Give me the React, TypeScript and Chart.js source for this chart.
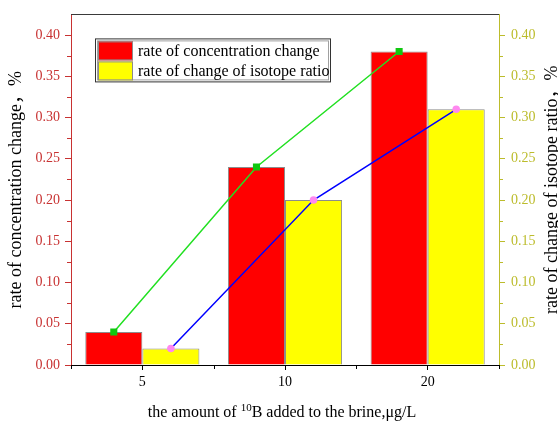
import { useEffect, useRef } from 'react';
import { Chart, registerables } from 'chart.js';

Chart.register(...registerables);

// Series data
const categories = ['5', '10', '20'];
const concentrationChange = [0.04, 0.24, 0.38];
const isotopeRatioChange = [0.02, 0.2, 0.31];
const yTickValues = [0, 0.05, 0.1, 0.15, 0.2, 0.25, 0.3, 0.35, 0.4];
const yMin = 0;
const yMax = 0.425;

const seriesLabels = ['rate of concentration change', 'rate of change of isotope ratio'];
const leftTitle = 'rate of concentration change，%';
const rightTitle = 'rate of change of isotope ratio，%';
const xTitleParts = ['the amount of ', '10', 'B added to the brine,μg/L'];

const FONT = "'Liberation Serif', 'Times New Roman', 'Noto Sans CJK SC', serif";
const LEFT_COLOR = '#c83232';
const RIGHT_COLOR = '#bcbc2c';
const RED = '#ff0000';
const YELLOW = '#ffff00';
const BAR_BORDER = '#8c8c8c';

// bar groups fill 80% of each category; each bar is half of the group
const groupFraction = 0.8;
const barOffset = groupFraction / 4;
const categoryIndex = categories.map((_, i) => i);

const decorPlugin = {
  id: 'decor',
  afterDraw(chart: any) {
    const { ctx, chartArea } = chart;
    const { left, right, top, bottom } = chartArea;
    const yL = chart.scales.y;
    const yR = chart.scales.y1;
    const xS = chart.scales.x;
    ctx.save();

    // top frame line
    ctx.strokeStyle = '#3a3a3a';
    ctx.lineWidth = 1;
    ctx.beginPath();
    ctx.moveTo(left, Math.round(top) + 0.5);
    ctx.lineTo(right, Math.round(top) + 0.5);
    ctx.stroke();

    // minor ticks on the value axes
    for (let i = 0; i < yTickValues.length - 1; i++) {
      const mid = (yTickValues[i] + yTickValues[i + 1]) / 2;
      const py = Math.round(yL.getPixelForValue(mid)) + 0.5;
      ctx.strokeStyle = LEFT_COLOR;
      ctx.beginPath();
      ctx.moveTo(left - 4, py);
      ctx.lineTo(left, py);
      ctx.stroke();
      const pr = Math.round(yR.getPixelForValue(mid)) + 0.5;
      ctx.strokeStyle = RIGHT_COLOR;
      ctx.beginPath();
      ctx.moveTo(right, pr);
      ctx.lineTo(right + 4, pr);
      ctx.stroke();
    }

    // minor ticks on the category axis, at category boundaries
    ctx.strokeStyle = '#000';
    for (let i = 0; i <= categories.length; i++) {
      const px = Math.round(xS.getPixelForValue(i - 0.5)) + 0.5;
      ctx.beginPath();
      ctx.moveTo(px, bottom);
      ctx.lineTo(px, bottom + 4);
      ctx.stroke();
    }

    // legend box
    const lx = left + 24;
    const ly = top + 24;
    const lw = 236;
    const lh = 44;
    ctx.fillStyle = '#fff';
    ctx.fillRect(lx, ly, lw, lh);
    ctx.strokeStyle = '#333';
    ctx.lineWidth = 1;
    ctx.strokeRect(lx + 0.5, ly + 0.5, lw - 1, lh - 1);
    ctx.strokeStyle = '#a0a0a0';
    ctx.strokeRect(lx + 2.5, ly + 2.5, lw - 5, lh - 5);
    const swatches = [RED, YELLOW];
    ctx.font = `16px ${FONT}`;
    ctx.textBaseline = 'middle';
    ctx.textAlign = 'left';
    swatches.forEach((c, i) => {
      const sy = ly + 3 + i * 20;
      ctx.fillStyle = c;
      ctx.fillRect(lx + 3, sy, 35, 19);
      ctx.strokeStyle = BAR_BORDER;
      ctx.strokeRect(lx + 3.5, sy + 0.5, 34, 18);
      ctx.fillStyle = '#000';
      ctx.fillText(seriesLabels[i], lx + 43, sy + 10);
    });

    // left axis title
    ctx.fillStyle = '#000';
    ctx.font = `18px ${FONT}`;
    ctx.textAlign = 'center';
    ctx.textBaseline = 'middle';
    ctx.save();
    ctx.translate(16, (top + bottom) / 2);
    ctx.rotate(-Math.PI / 2);
    ctx.fillText(leftTitle, 0, 0);
    ctx.restore();

    // right axis title
    ctx.save();
    ctx.translate(552, (top + bottom) / 2);
    ctx.rotate(-Math.PI / 2);
    ctx.fillText(rightTitle, 0, 0);
    ctx.restore();

    // x axis title with superscript
    ctx.textAlign = 'left';
    ctx.textBaseline = 'alphabetic';
    ctx.font = `16px ${FONT}`;
    const w1 = ctx.measureText(xTitleParts[0]).width;
    const w3 = ctx.measureText(xTitleParts[2]).width;
    ctx.font = `11px ${FONT}`;
    const w2 = ctx.measureText(xTitleParts[1]).width;
    const total = w1 + w2 + w3;
    let tx = (left + right) / 2 - 3 - total / 2;
    const base = 417;
    ctx.font = `16px ${FONT}`;
    ctx.fillText(xTitleParts[0], tx, base);
    tx += w1;
    ctx.font = `11px ${FONT}`;
    ctx.fillText(xTitleParts[1], tx, base - 6);
    tx += w2;
    ctx.font = `16px ${FONT}`;
    ctx.fillText(xTitleParts[2], tx, base);

    ctx.restore();
  },
};

export default function App() {
  const ref = useRef<HTMLCanvasElement>(null);

  useEffect(() => {
    const canvas = ref.current;
    if (!canvas) return;
    const tickFont = { family: FONT, size: 14 };
    const chart = new Chart(canvas, {
      type: 'line',
      data: {
        labels: categories,
        datasets: [
          {
            type: 'line',
            label: seriesLabels[0],
            data: concentrationChange.map((v, i) => ({ x: i - barOffset, y: v })),
            xAxisID: 'xPos',
            yAxisID: 'y',
            borderColor: '#22e022',
            borderWidth: 1.5,
            pointStyle: 'rect',
            pointRadius: 5,
            pointBackgroundColor: '#10c810',
            pointBorderColor: '#10c810',
            pointBorderWidth: 0,
            order: 0,
          } as any,
          {
            type: 'line',
            label: seriesLabels[1],
            data: isotopeRatioChange.map((v, i) => ({ x: i + barOffset, y: v })),
            xAxisID: 'xPos',
            yAxisID: 'y1',
            borderColor: '#0000ff',
            borderWidth: 1.5,
            pointStyle: 'circle',
            pointRadius: 3.8,
            pointBackgroundColor: '#ff88f0',
            pointBorderColor: '#ff88f0',
            pointBorderWidth: 0,
            order: 0,
          } as any,
          {
            type: 'bar',
            label: seriesLabels[0],
            data: concentrationChange.map((v, i) => ({ x: i, y: v })),
            xAxisID: 'xPos',
            yAxisID: 'y',
            backgroundColor: RED,
            borderColor: BAR_BORDER,
            borderWidth: 1,
            borderSkipped: 'bottom',
            categoryPercentage: groupFraction,
            barPercentage: 1,
            order: 1,
          } as any,
          {
            type: 'bar',
            label: seriesLabels[1],
            data: isotopeRatioChange.map((v, i) => ({ x: i, y: v })),
            xAxisID: 'xPos',
            yAxisID: 'y1',
            backgroundColor: YELLOW,
            borderColor: BAR_BORDER,
            borderWidth: 1,
            borderSkipped: 'bottom',
            categoryPercentage: groupFraction,
            barPercentage: 1,
            order: 1,
          } as any,
        ],
      },
      options: {
        responsive: false,
        animation: false,
        devicePixelRatio: 1,
        layout: { padding: { top: 12, left: 0, right: 0, bottom: 0 } },
        plugins: {
          legend: { display: false },
          tooltip: { enabled: false },
        },
        scales: {
          // visible category axis: labels and ticks
          x: {
            type: 'category',
            labels: categories,
            position: 'bottom',
            offset: true,
            grid: {
              display: true,
              drawOnChartArea: false,
              offset: false,
              tickLength: 5,
              tickColor: '#000',
            },
            border: { color: '#000', width: 1 },
            ticks: { color: '#000', font: tickFont, padding: 4, maxRotation: 0 },
            afterFit: (s: any) => {
              s.height = 56;
            },
          },
          // hidden numeric twin of the category axis, used to place bars and markers
          xPos: {
            type: 'linear',
            min: -0.5,
            max: categories.length - 0.5,
            offset: false,
            display: false,
            afterBuildTicks: (s: any) => {
              s.ticks = categoryIndex.map((v) => ({ value: v }));
            },
          },
          y: {
            type: 'linear',
            position: 'left',
            min: yMin,
            max: yMax,
            afterBuildTicks: (s: any) => {
              s.ticks = yTickValues.map((v) => ({ value: v }));
            },
            grid: { drawOnChartArea: false, tickLength: 6, tickColor: LEFT_COLOR },
            border: { color: LEFT_COLOR, width: 1 },
            ticks: {
              color: LEFT_COLOR,
              font: tickFont,
              padding: 5,
              callback: (v: any) => Number(v).toFixed(2),
            },
            afterFit: (s: any) => {
              s.width = 71;
            },
          },
          y1: {
            type: 'linear',
            position: 'right',
            min: yMin,
            max: yMax,
            afterBuildTicks: (s: any) => {
              s.ticks = yTickValues.map((v) => ({ value: v }));
            },
            grid: { drawOnChartArea: false, tickLength: 6, tickColor: RIGHT_COLOR },
            border: { color: RIGHT_COLOR, width: 1 },
            ticks: {
              color: RIGHT_COLOR,
              font: tickFont,
              padding: 6,
              callback: (v: any) => Number(v).toFixed(2),
            },
            afterFit: (s: any) => {
              s.width = 59;
            },
          },
        },
      },
      plugins: [decorPlugin],
    });
    return () => chart.destroy();
  }, []);

  return (
    <div style={{ position: 'fixed', left: 0, top: 0, width: 558, height: 421, background: '#fff' }}>
      <canvas ref={ref} width={558} height={421} style={{ display: 'block', width: 558, height: 421 }} />
    </div>
  );
}
